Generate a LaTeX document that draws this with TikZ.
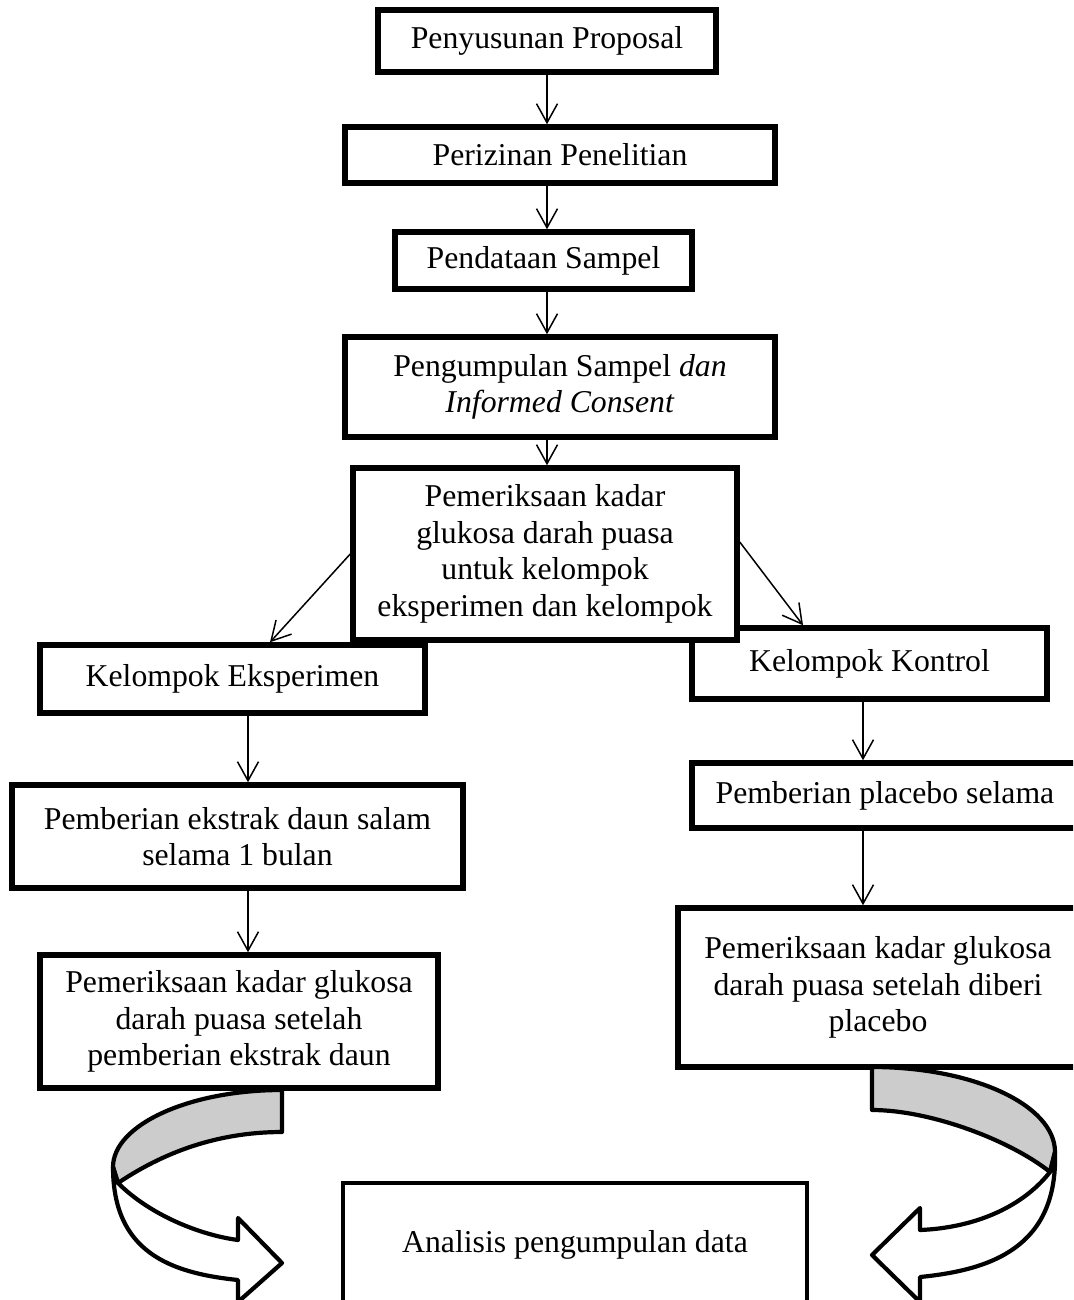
\documentclass[tikz,border=0pt]{standalone}
\usepackage{fontspec}
\setmainfont{Liberation Serif}
\usetikzlibrary{arrows.meta}
\definecolor{bandgray}{RGB}{204,204,204}
\tikzset{
	flowbox/.style={draw, line width=5.5pt, fill=white, inner sep=0pt, align=center,
		font=\fontsize{31.75}{36.5}\selectfont},
	flowarrow/.style={line width=1.5pt, -{Straight Barb[length=19pt,width=21pt]}},
	turnarrow/.style={draw, line width=4.2pt, line join=round}
}
\begin{document}
\begin{tikzpicture}[x=1pt,y=-1pt]
			\useasboundingbox (0,0) rectangle (1073,1300);
			\clip (0,0) rectangle (1073,1300);
			
			\node[flowbox, minimum width=338pt, minimum height=62pt] (prop) at (547,41) {Penyusunan Proposal};
			\node[flowbox, minimum width=430pt, minimum height=56pt] (izin) at (560,155) {Perizinan Penelitian};
			\node[flowbox, minimum width=297pt, minimum height=57pt] (data) at (543.5,260.5) {Pendataan Sampel};
			\node[flowbox, minimum width=430pt, minimum height=100pt] (kumpul) at (560,387) {Pengumpulan Sampel \textit{dan}\\\textit{Informed Consent}};
			
			\node[flowbox, minimum width=385pt, minimum height=68pt] (eksp) at (232.5,679) {Kelompok Eksperimen};
			\node[flowbox, minimum width=355pt, minimum height=71pt] (kontrol) at (869.5,663.5) {Kelompok Kontrol};
			\node[flowbox, minimum width=384pt, minimum height=172pt] (periksa) at (545,554) {Pemeriksaan kadar\\glukosa darah puasa\\untuk kelompok\\eksperimen dan kelompok};
			
			\node[flowbox, minimum width=451pt, minimum height=103pt] (ekstrak) at (237.5,836.5) {Pemberian ekstrak daun salam\\selama 1 bulan};
			\node[flowbox, minimum width=398pt, minimum height=133pt] (hasileksp) at (239,1021.5) {Pemeriksaan kadar glukosa\\darah puasa setelah\\pemberian ekstrak daun};
			
			\node[flowbox, minimum width=386pt, minimum height=65pt] (placebo) at (885,795.5) {Pemberian placebo selama};
			\node[flowbox, minimum width=400pt, minimum height=159pt] (hasilkontrol) at (878,987.5) {Pemeriksaan kadar glukosa\\darah puasa setelah diberi\\placebo};
			
			\node[flowbox, line width=4.5pt, minimum width=464pt, minimum height=124pt] (analisis) at (575,1245) {Analisis pengumpulan data};
			
			% alur utama
			\draw[flowarrow] (prop.south) -- (prop.south |- izin.north);
			\draw[flowarrow] (izin.south -| prop.south) -- (data.north -| prop.south);
			\draw[flowarrow] (data.south -| prop.south) -- (kumpul.north -| prop.south);
			\draw[flowarrow] (kumpul.south -| prop.south) -- (periksa.north -| prop.south);
			
			\draw[flowarrow] (periksa.west) -- ([xshift=37.5pt]eksp.north);
			\draw[flowarrow] ([yshift=12pt]periksa.east) -- ([xshift=-66.5pt]kontrol.north);
			
			% kelompok eksperimen
			\draw[flowarrow] ([xshift=15.5pt]eksp.south) -- ([xshift=15.5pt]eksp.south |- ekstrak.north);
			\draw[flowarrow] ([xshift=15.5pt]eksp.south |- ekstrak.south) -- ([xshift=15.5pt]eksp.south |- hasileksp.north);
			
			% kelompok kontrol
			\draw[flowarrow] ([xshift=-6.5pt]kontrol.south) -- ([xshift=-6.5pt]kontrol.south |- placebo.north);
			\draw[flowarrow] ([xshift=-6.5pt]kontrol.south |- placebo.south) -- ([xshift=-6.5pt]kontrol.south |- hasilkontrol.north);
			
			% panah lengkung kiri
			\draw[turnarrow, fill=bandgray] (282,1090) .. controls (189,1090) and (113,1125) .. (113,1167)
				-- (118,1183) .. controls (170,1148) and (225,1132) .. (282,1132) -- cycle;
			\draw[turnarrow, fill=white] (113,1167) .. controls (113,1252) and (170,1273) .. (238,1280)
				-- (238,1302) -- (282,1263) -- (238,1218) -- (238,1240)
				.. controls (200,1235) and (150,1215) .. (118,1183) -- cycle;
			
			% panah lengkung kanan
			\draw[turnarrow, fill=bandgray] (872,1067) .. controls (973,1067) and (1055,1105) .. (1055,1152)
				-- (1050,1172) .. controls (1010,1140) and (930,1110) .. (872,1110) -- cycle;
			\draw[turnarrow, fill=white] (1055,1152) .. controls (1058,1248) and (990,1270) .. (920,1277)
				-- (920,1302) -- (872,1255) -- (920,1208) -- (920,1230)
				.. controls (970,1228) and (1020,1210) .. (1050,1172) -- cycle;
			
		\end{tikzpicture}
\end{document}
